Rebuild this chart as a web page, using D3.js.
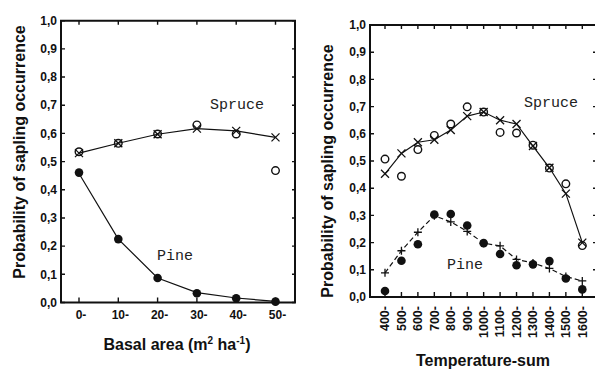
<!DOCTYPE html>
<html><head><meta charset="utf-8">
<script src="https://cdn.jsdelivr.net/npm/d3@7"></script>
<style>
html,body{margin:0;padding:0;background:#fff;}
svg{display:block;}
.tick-lab{font-family:"Liberation Sans",Arial,sans-serif;font-weight:bold;font-size:12px;fill:#111;}
.rot-lab{font-size:12.5px;}
.title{font-family:"Liberation Sans",Arial,sans-serif;font-weight:bold;font-size:16px;fill:#111;}
.ann{font-family:"Liberation Mono","Courier New",monospace;font-size:15px;fill:#222;}
</style>
</head><body>
<svg id="c" width="595" height="369"></svg>
<script>
// ---- data ----
const basalCats = ["0-","10-","20-","30-","40-","50-"];
const spruceBasalObs = [0.535,0.565,0.598,0.63,0.598,0.468];
const spruceBasalFit = [0.53,0.565,0.597,0.617,0.609,0.586];
const pineBasalObs = [0.461,0.225,0.087,0.033,0.015,0.003];
const pineBasalFit = [0.458,0.225,0.087,0.035,0.016,0.004];

const tempCats = ["400-","500-","600-","700-","800-","900-","1000-","1100-","1200-","1300-","1400-","1500-","1600-"];
const spruceTempObs = [0.507,0.444,0.542,0.594,0.636,0.699,0.68,0.605,0.603,0.558,0.474,0.416,0.189];
const spruceTempFit = [0.453,0.528,0.569,0.578,0.614,0.665,0.68,0.65,0.636,0.555,0.475,0.38,0.2];
const pineTempObs = [0.022,0.133,0.194,0.303,0.305,0.263,0.198,0.158,0.117,0.12,0.132,0.068,0.028];
const pineTempFit = [0.089,0.17,0.238,0.299,0.276,0.241,0.198,0.188,0.138,0.125,0.105,0.075,0.059];

const yTicks = [0,0.1,0.2,0.3,0.4,0.5,0.6,0.7,0.8,0.9,1.0];
const yTickLabels = ["0,0","0,1","0,2","0,3","0,4","0,5","0,6","0,7","0,8","0,9","1,0"];
const yTitle = "Probability of sapling occurrence";

const svg = d3.select("#c");

function panel(cfg){
  const g = svg.append("g");
  const x = d3.scalePoint(cfg.cats, cfg.xr);
  const y = d3.scaleLinear([0,1], cfg.yr);
  const [L,R] = cfg.frameX, [T,B] = cfg.frameY;
  // frame
  g.append("path").attr("d", `M${L},${T}H${R}V${B}H${L}Z`)
    .attr("fill","none").attr("stroke","#111").attr("stroke-width",2);
  // y ticks (inward, left and right)
  g.selectAll(".yt").data(yTicks).join("path")
    .attr("d", d=>`M${L},${y(d)}h4M${R},${y(d)}h-3`)
    .attr("stroke","#111").attr("stroke-width",1.4);
  // x ticks (inward bottom & top)
  g.selectAll(".xt").data(cfg.cats).join("path")
    .attr("d", d=>`M${x(d)},${B}v-5M${x(d)},${T}v4`)
    .attr("stroke","#111").attr("stroke-width",1.4);
  // y labels
  g.selectAll(".yl").data(yTicks).join("text").attr("class","tick-lab")
    .attr("x", L-4).attr("y", d=>y(d)).attr("dy","0.35em").attr("text-anchor","end")
    .text((d,i)=>yTickLabels[i]);
  // x labels
  if(cfg.rotate){
    g.selectAll(".xl").data(cfg.cats).join("text").attr("class","tick-lab rot-lab")
      .attr("transform", d=>`translate(${x(d)},${B+9}) rotate(-90)`)
      .attr("dy","0.35em").attr("text-anchor","end").text(d=>d);
  } else {
    g.selectAll(".xl").data(cfg.cats).join("text").attr("class","tick-lab")
      .attr("x", d=>x(d)+2).attr("y", B+16).attr("text-anchor","middle").text(d=>d);
  }
  // titles
  g.append("text").attr("class","title")
    .attr("transform",`translate(${cfg.yTitlePos[0]},${cfg.yTitlePos[1]}) rotate(-90)`)
    .attr("text-anchor","middle").attr("font-size",cfg.yTitleSize+"px").text(yTitle);
  const xt = g.append("text").attr("class","title").attr("x",cfg.xTitlePos[0]).attr("y",cfg.xTitlePos[1]).attr("text-anchor","middle");
  cfg.xTitle.forEach(p=>{
    const t = xt.append("tspan").text(p.t);
    if(p.sup){ t.attr("dy",-6).attr("font-size","10px"); }
    if(p.down){ t.attr("dy",6); }
  });
  const line = d3.line().x((d,i)=>x(cfg.cats[i])).y(d=>y(d));
  // lines
  g.append("path").datum(cfg.spruceFit).attr("d",line).attr("fill","none").attr("stroke","#111").attr("stroke-width",1.2);
  g.append("path").datum(cfg.pineFit).attr("d",line).attr("fill","none").attr("stroke","#111").attr("stroke-width",1.2)
    .attr("stroke-dasharray", cfg.pineDash || null);
  // spruce fit x markers
  g.selectAll(".sx").data(cfg.spruceFit).join("path")
    .attr("d",(d,i)=>{const cx=x(cfg.cats[i]), cy=y(d), s=4; return `M${cx-s},${cy-s}L${cx+s},${cy+s}M${cx-s},${cy+s}L${cx+s},${cy-s}`;})
    .attr("stroke","#111").attr("stroke-width",1.3);
  // spruce obs circles
  g.selectAll(".so").data(cfg.spruceObs).join("circle")
    .attr("cx",(d,i)=>x(cfg.cats[i])).attr("cy",d=>y(d)).attr("r",3.8)
    .attr("fill","none").attr("stroke","#111").attr("stroke-width",1.4);
  // pine fit + markers
  if(cfg.pinePlus){
    g.selectAll(".pp").data(cfg.pineFit).join("path")
      .attr("d",(d,i)=>{const cx=x(cfg.cats[i]), cy=y(d), s=4; return `M${cx-s},${cy}H${cx+s}M${cx},${cy-s}V${cy+s}`;})
      .attr("stroke","#111").attr("stroke-width",1.3);
  }
  // pine obs filled
  g.selectAll(".po").data(cfg.pineObs).join("circle")
    .attr("cx",(d,i)=>x(cfg.cats[i])).attr("cy",d=>y(d)).attr("r",4.3).attr("fill","#111");
  // annotations
  g.append("text").attr("class","ann").attr("x",cfg.spruceLab[0]).attr("y",cfg.spruceLab[1]).text("Spruce");
  g.append("text").attr("class","ann").attr("x",cfg.pineLab[0]).attr("y",cfg.pineLab[1]).text("Pine");
}

panel({
  cats: basalCats, xr:[79,275.5], yr:[302.5,20.7],
  frameX:[61,295], frameY:[20.7,302.5],
  spruceObs: spruceBasalObs, spruceFit: spruceBasalFit,
  pineObs: pineBasalObs, pineFit: pineBasalFit, pinePlus:false,
  yTitlePos:[25,152], yTitleSize:16.5, xTitlePos:[177,350],
  xTitle:[{t:"Basal area (m"},{t:"2",sup:true},{t:" ha",down:true},{t:"-1",sup:true},{t:")",down:true}],
  spruceLab:[210,109], pineLab:[157,260]
});
panel({
  cats: tempCats, xr:[385,582.3], yr:[297,25],
  frameX:[370,596], frameY:[25,297],
  spruceObs: spruceTempObs, spruceFit: spruceTempFit,
  pineObs: pineTempObs, pineFit: pineTempFit, pinePlus:true, pineDash:"5,3",
  rotate:true,
  yTitlePos:[333,171], yTitleSize:15, xTitlePos:[483,366],
  xTitle:[{t:"Temperature-sum"}],
  spruceLab:[524,107], pineLab:[447,269]
});
</script>
</body></html>
